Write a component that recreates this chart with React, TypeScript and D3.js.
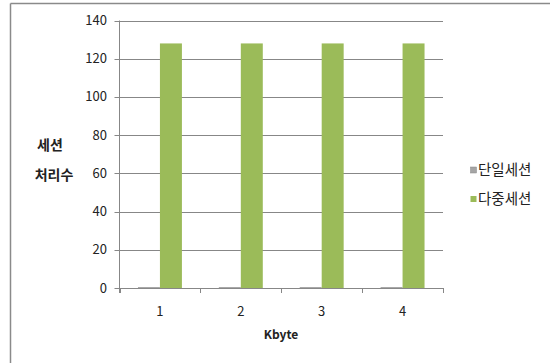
import React from "react";
import * as d3 from "d3";

const categories = ["1", "2", "3", "4"];
const seriesNames = ["단일세션", "다중세션"];
const singleSession = [0.5, 0.5, 0.5, 0.5];
const multiSession = [128, 128, 128, 128];
const yTicks = [0, 20, 40, 60, 80, 100, 120, 140];
const colors = ["#a5a5a5", "#9bbb59"];

export default function App() {
  const W = 550, H = 363;
  const left = 119.5, right = 443, top = 20.5, bottom = 288;
  const x = d3.scaleBand().domain(categories).range([left, right]).paddingInner(0).paddingOuter(0);
  const inner = d3.scaleBand().domain(seriesNames).range([0, x.bandwidth()]).paddingInner(0).paddingOuter(0.84);
  const y = d3.scaleLinear().domain([0, 140]).range([bottom, top]);
  const series = [singleSession, multiSession];
  const font = "'Noto Sans CJK KR', 'Noto Sans', sans-serif";
  return (
    <svg width={W} height={H} style={{ position: "absolute", left: 0, top: 0, background: "#fff" }} fontFamily={font}>
      <rect x={0} y={0} width={W} height={H} fill="#fff" />
      <line x1={10.5} y1={3.5} x2={W} y2={3.5} stroke="#8a8a8a" strokeWidth={1.5} />
      <line x1={10.5} y1={3.5} x2={10.5} y2={H} stroke="#8a8a8a" strokeWidth={1.5} />
      {yTicks.map((t) => (
        <g key={t}>
          <line x1={left - 5} x2={right} y1={Math.round(y(t)) + 0.5} y2={Math.round(y(t)) + 0.5} stroke="#878787" strokeWidth={1} />
          <text x={107} y={y(t)} dy="0.35em" textAnchor="end" fontSize={13} fill="#222">{t}</text>
        </g>
      ))}
      <line x1={left} x2={left} y1={top} y2={bottom + 5} stroke="#878787" />
      {categories.map((c, i) => (
        <g key={c}>
          {series.map((s, k) => {
            const bx = (x(c) as number) + (inner(seriesNames[k]) as number);
            const h = bottom - y(s[i]);
            return <rect key={k} x={bx} y={y(s[i])} width={inner.bandwidth()} height={Math.max(h, 1)} fill={colors[k]} />;
          })}
          <text x={(x(c) as number) + x.bandwidth() / 2} y={311} dy="0.35em" textAnchor="middle" fontSize={13} fill="#222">{c}</text>
        </g>
      ))}
      {[...categories.map((c) => x(c) as number), right].map((tx, i) => (
        <line key={i} x1={Math.round(tx) + 0.5} x2={Math.round(tx) + 0.5} y1={bottom} y2={bottom + 5} stroke="#878787" />
      ))}
      <text x={281} y={335} dy="0.35em" textAnchor="middle" fontSize={12} fontWeight="bold" fill="#222">Kbyte</text>
      <text x={50} y={145} dy="0.35em" textAnchor="middle" fontSize={14} fontWeight="bold" fill="#222">세션</text>
      <text x={54} y={175} dy="0.35em" textAnchor="middle" fontSize={14} fontWeight="bold" fill="#222">처리수</text>
      {seriesNames.map((n, k) => (
        <g key={n} transform={`translate(0, ${170 + k * 29})`}>
          <rect x={470.5} y={-3} width={6} height={6} fill={colors[k]} stroke={k === 0 ? "#888" : "none"} strokeWidth={0.5} />
          <text x={478} y={0} dy="0.35em" fontSize={14.5} fill="#222">{n}</text>
        </g>
      ))}
    </svg>
  );
}
